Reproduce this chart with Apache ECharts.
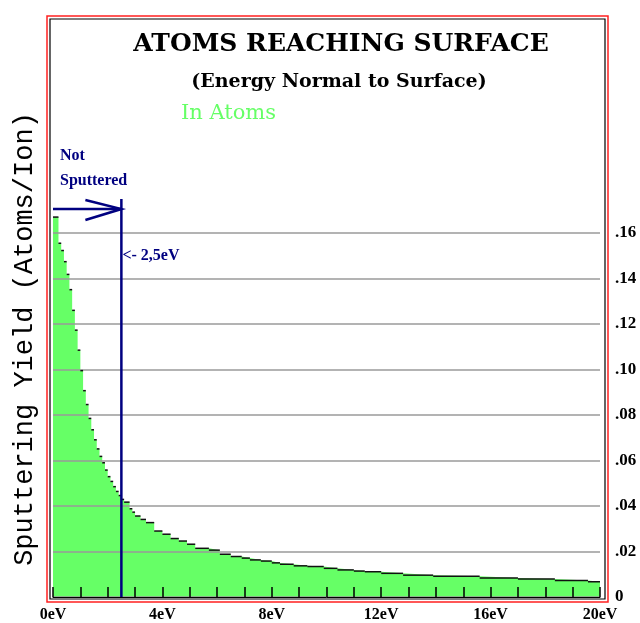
<!DOCTYPE html>
<html>
<head>
<meta charset="utf-8">
<title>Atoms Reaching Surface</title>
<script src="https://cdn.jsdelivr.net/npm/echarts@6/dist/echarts.min.js"></script>
<style>
html, body { margin: 0; padding: 0; background: #fff; }
#main { width: 640px; height: 623px; }
</style>
</head>
<body>
<div id="main"></div>
<script>
// start of each histogram step (eV), last entry closes the final step
var energy = [0, 0.2, 0.3, 0.4, 0.5, 0.6, 0.7, 0.8, 0.9, 1.0,
    1.1, 1.2, 1.3, 1.4, 1.5, 1.6, 1.7, 1.8, 1.9, 2.0,
    2.1, 2.2, 2.3, 2.4, 2.5, 2.6, 2.8, 2.9, 3.0, 3.2,
    3.4, 3.7, 4.0, 4.3, 4.6, 4.9, 5.2, 5.7, 6.1, 6.5,
    6.9, 7.2, 7.6, 8.0, 8.3, 8.8, 9.3, 9.9, 10.4, 11.0,
    11.4, 12.0, 12.8, 13.9, 15.6, 17.0, 18.35, 19.56, 20];
// sputtering yield of each step (atoms/ion)
var yieldVal = [0.167, 0.1555, 0.1523, 0.1474, 0.1418, 0.1351, 0.126, 0.1173, 0.1085, 0.0995,
    0.0907, 0.0846, 0.0785, 0.0735, 0.0691, 0.0651, 0.0618, 0.059, 0.0558, 0.0529,
    0.0508, 0.0485, 0.0464, 0.0446, 0.0429, 0.0417, 0.0388, 0.0373, 0.0356, 0.0341,
    0.0327, 0.029, 0.0276, 0.0257, 0.0246, 0.0232, 0.0214, 0.0206, 0.0188, 0.0178,
    0.0171, 0.0163, 0.0158, 0.015, 0.0144, 0.0137, 0.0134, 0.0126, 0.0119, 0.0114,
    0.0111, 0.0104, 0.0096, 0.0091, 0.0084, 0.0079, 0.0073, 0.0067, 0.0067];
var xLabelEvery = 4;
var cutoff = 2.5;   // not sputtered below this energy

var areaData = [];
var topData = [];
for (var i = 0; i < energy.length; i++) {
    areaData.push([energy[i], yieldVal[i]]);
    if (i < energy.length - 1) {
        topData.push([energy[i], energy[i + 1], yieldVal[i]]);
    }
}

var navy = '#000080';
var serif = '"Liberation Serif", "Times New Roman", serif';

var dom = document.getElementById('main');
var chart = echarts.init(dom);

var option = {
    backgroundColor: '#fff',
    animation: false,
    grid: {
        left: 53,
        right: 40,
        top: 233,
        bottom: 26
    },
    xAxis: {
        type: 'value',
        min: 0,
        max: 20,
        interval: 1,
        z: 4,
        axisLine: { lineStyle: { color: '#000', width: 1 } },
        axisTick: { inside: true, length: 10, lineStyle: { color: '#000', width: 1.5 } },
        splitLine: { show: false },
        axisLabel: {
            margin: 10,
            color: '#000',
            fontFamily: serif,
            fontWeight: 'bold',
            fontSize: 16,
            formatter: function (v) {
                return v % xLabelEvery === 0 ? v + 'eV' : '';
            }
        }
    },
    yAxis: {
        type: 'value',
        position: 'right',
        min: 0,
        max: 0.16,
        interval: 0.02,
        z: 4,
        axisLine: { show: false },
        axisTick: { show: false },
        splitLine: { lineStyle: { color: '#9a9a9a', width: 1.5 } },
        axisLabel: {
            margin: 15,
            color: '#000',
            fontFamily: serif,
            fontWeight: 'bold',
            fontSize: 17,
            padding: [0, 0, 10, 0],
            formatter: function (v) {
                if (v === 0) return '0';
                return v.toFixed(2).replace('0.', '.');
            }
        }
    },
    series: [
        {
            type: 'line',
            step: 'end',
            data: areaData,
            symbol: 'none',
            clip: false,
            z: 1,
            lineStyle: { width: 0, opacity: 0 },
            areaStyle: { color: '#66ff66', opacity: 1 }
        },
        {
            type: 'custom',
            data: topData,
            clip: false,
            z: 5,
            encode: { x: [0, 1], y: 2 },
            renderItem: function (params, api) {
                var a = api.coord([api.value(0), api.value(2)]);
                var b = api.coord([api.value(1), api.value(2)]);
                return {
                    type: 'line',
                    shape: { x1: a[0], y1: a[1], x2: b[0], y2: b[1] },
                    style: { stroke: '#111', lineWidth: 1.5 }
                };
            }
        }
    ]
};
chart.setOption(option);

// annotations placed with the chart's own scale
var origin = chart.convertToPixel({ gridIndex: 0 }, [0, 0]);
var cut = chart.convertToPixel({ gridIndex: 0 }, [cutoff, 0]);
var arrowY = 209;

chart.setOption({
    graphic: [
        // double frame
        { type: 'rect', z: 10, shape: { x: 47, y: 16, width: 561, height: 586 },
          style: { fill: 'none', stroke: '#ff2020', lineWidth: 1.5 } },
        { type: 'rect', z: 10, shape: { x: 50, y: 19, width: 555, height: 580 },
          style: { fill: 'none', stroke: '#000', lineWidth: 1.2 } },
        // titles
        { type: 'text', z: 10, x: 341, y: 44,
          style: { text: 'ATOMS REACHING SURFACE', fill: '#000', align: 'center', verticalAlign: 'middle',
                   font: 'bold 25px "DejaVu Serif", serif' } },
        { type: 'text', z: 10, x: 339, y: 82,
          style: { text: '(Energy Normal to Surface)', fill: '#000', align: 'center', verticalAlign: 'middle',
                   font: 'bold 19px "DejaVu Serif", serif' } },
        { type: 'text', z: 10, x: 181, y: 114,
          style: { text: 'In Atoms', fill: '#66ff66', align: 'left', verticalAlign: 'middle',
                   font: '21px "DejaVu Serif", serif' } },
        // y axis name
        { type: 'text', z: 10, x: 25, y: 339, rotation: Math.PI / 2,
          style: { text: 'Sputtering Yield (Atoms/Ion)', fill: '#000', align: 'center', verticalAlign: 'middle',
                   font: '27px "Liberation Mono", monospace' } },
        // cutoff line and arrow
        { type: 'line', z: 12, shape: { x1: cut[0], y1: 199, x2: cut[0], y2: origin[1] },
          style: { stroke: navy, lineWidth: 2.5 } },
        { type: 'line', z: 12, shape: { x1: origin[0], y1: arrowY, x2: cut[0], y2: arrowY },
          style: { stroke: navy, lineWidth: 2.5 } },
        { type: 'polyline', z: 12,
          shape: { points: [[cut[0] - 36, arrowY - 9], [cut[0], arrowY], [cut[0] - 36, arrowY + 11]] },
          style: { fill: 'none', stroke: navy, lineWidth: 2.5 } },
        { type: 'text', z: 12, x: 60, y: 156,
          style: { text: 'Not', fill: navy, align: 'left', verticalAlign: 'middle',
                   font: 'bold 16px ' + serif } },
        { type: 'text', z: 12, x: 60, y: 181,
          style: { text: 'Sputtered', fill: navy, align: 'left', verticalAlign: 'middle',
                   font: 'bold 16px ' + serif } },
        { type: 'text', z: 12, x: cut[0] + 1, y: 256,
          style: { text: '<- 2,5eV', fill: navy, align: 'left', verticalAlign: 'middle',
                   font: 'bold 16px ' + serif } }
    ]
});

window.addEventListener('resize', function () {
    chart.resize();
});
</script>
</body>
</html>
